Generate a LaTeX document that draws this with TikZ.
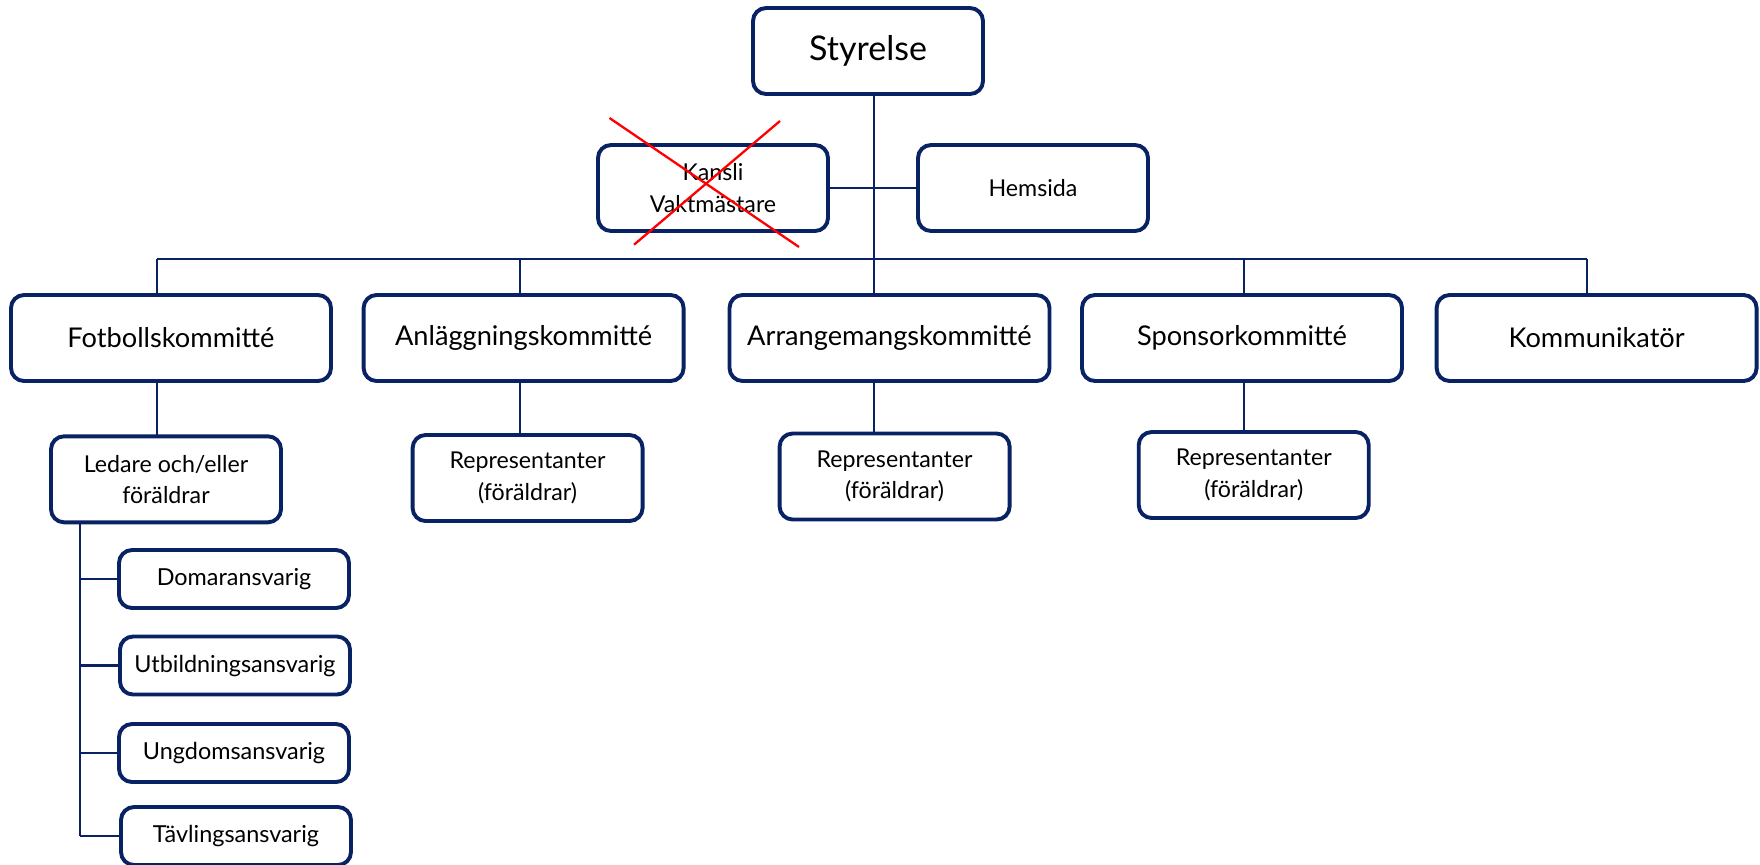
\documentclass[tikz,border=0pt]{standalone}
\usepackage{fontspec}
\setmainfont{Lato}
\definecolor{navy}{RGB}{8,34,100}
\begin{document}
\begin{tikzpicture}[x=0.5pt,y=-0.5pt,
 box/.style={draw=navy,line width=1.95pt,rounded corners=6.5pt,fill=white,align=center,inner sep=0pt,outer sep=0pt,text=black},
 topbox/.style={box,minimum width=115pt,minimum height=43pt,font=\fontsize{17}{20}\selectfont},
 midbox/.style={box,minimum width=115pt,minimum height=43pt,font=\fontsize{11.6}{15.7}\selectfont},
 lvlbox/.style={box,minimum width=160pt,minimum height=43pt,font=\fontsize{13.6}{16}\selectfont},
 subbox/.style={box,minimum width=115pt,minimum height=29pt,font=\fontsize{11.7}{14}\selectfont},
 conn/.style={draw=navy,line width=1.05pt},
 cross/.style={draw=red,line width=1.15pt}]
\useasboundingbox (0,0) rectangle (1760,864);

% coordinates on the bus
\coordinate (b1) at (157,259.3);
\coordinate (b2) at (519.7,259.3);
\coordinate (b3) at (874.4,259.3);
\coordinate (b4) at (1243.6,259.3);
\coordinate (b5) at (1587,259.3);
\coordinate (l0) at (79.7,523);

% nodes
\node[topbox] (sty) at (868,51) {Styrelse};
\node[midbox] (kan) at (713,188) {Kansli\\Vaktmästare};
\node[midbox] (hem) at (1033,188) {Hemsida};

\node[lvlbox] (fot) at (171,338) {Fotbollskommitté};
\node[lvlbox] (anl) at (523.6,338) {Anläggningskommitté};
\node[lvlbox] (arr) at (889.5,338) {Arrangemangskommitté};
\node[lvlbox] (spo) at (1242,338) {Sponsorkommitté};
\node[lvlbox] (kom) at (1596.6,338) {Kommunikatör};

\node[midbox] (led) at (166,479.3) {Ledare och/eller\\föräldrar};
\node[midbox] (rep1) at (527.6,478) {Representanter\\(föräldrar)};
\node[midbox] (rep2) at (894.6,476.5) {Representanter\\(föräldrar)};
\node[midbox] (rep3) at (1253.7,475) {Representanter\\(föräldrar)};

\node[subbox] (dom) at (234,579) {Domaransvarig};
\node[subbox] (utb) at (235,665.5) {Utbildningsansvarig};
\node[subbox] (ung) at (234,753) {Ungdomsansvarig};
\node[subbox] (tav) at (236,836) {Tävlingsansvarig};

% connectors
\draw[conn] (sty.south -| b3) -- (b3 |- arr.north);
\draw[conn] (kan.east) -- (hem.west);
\draw[conn] (b1) -- (b5);
\draw[conn] (b1) -- (b1 |- fot.north);
\draw[conn] (b2) -- (b2 |- anl.north);
\draw[conn] (b4) -- (b4 |- spo.north);
\draw[conn] (b5) -- (b5 |- kom.north);

\draw[conn] (b1 |- fot.south) -- (b1 |- led.north);
\draw[conn] (b2 |- anl.south) -- (b2 |- rep1.north);
\draw[conn] (b3 |- arr.south) -- (b3 |- rep2.north);
\draw[conn] (b4 |- spo.south) -- (b4 |- rep3.north);

\draw[conn] (l0) -- (l0 |- tav.west);
\draw[conn] (l0 |- dom.west) -- (dom.west);
\draw[conn] (l0 |- utb.west) -- (utb.west);
\draw[conn] (l0 |- ung.west) -- (ung.west);
\draw[conn] (l0 |- tav.west) -- (tav.west);

% red cross over Kansli
\draw[cross] (609.5,118) -- (799,247);
\draw[cross] (780,121) -- (634,244.7);
\end{tikzpicture}
\end{document}
